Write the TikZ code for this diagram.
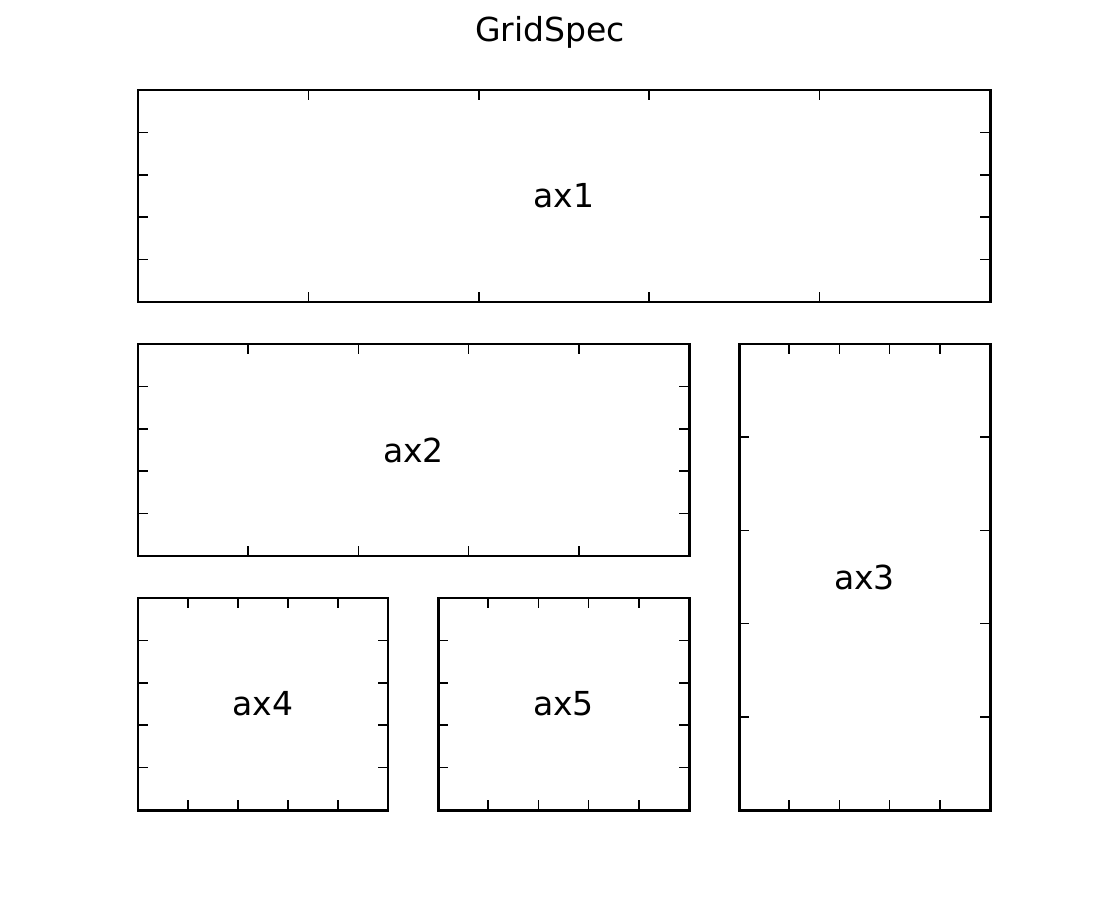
\documentclass[tikz,border=0pt]{standalone}
\usepackage{fontspec}
\setmainfont{DejaVu Sans}
\usetikzlibrary{calc}

% inward ticks, four per side
\newcommand\paneticks[1]{%
  \foreach \i in {1,...,4} {
    \draw[tick] ($(#1.north west)!\i/5!(#1.north east)$) -- ++(0,-0.2);
    \draw[tick] ($(#1.south west)!\i/5!(#1.south east)$) -- ++(0,0.2);
    \draw[tick] ($(#1.south west)!\i/5!(#1.north west)$) -- ++(0.2,0);
    \draw[tick] ($(#1.south east)!\i/5!(#1.north east)$) -- ++(-0.2,0);
  }}

\begin{document}
\begin{tikzpicture}[
  font=\fontsize{18.8}{22}\selectfont,
  panel/.style 2 args={draw, line width=1.7pt, inner sep=0pt, outer sep=0pt,
    minimum width=#1, minimum height=#2},
  tick/.style={line width=0.9pt},
]
\useasboundingbox (0,0) rectangle (22,18);

\node (title) at (11.0,17.36) {GridSpec};

% top row spans all columns
\node[panel={17.04cm}{4.24cm}] (ax1) at (11.28,14.08) {ax1};

% middle and bottom rows
\node[panel={11.02cm}{4.24cm}] (ax2) at (8.27,9.0) {ax2};
\node[panel={5.02cm}{9.32cm}] (ax3) at (17.29,6.46) {ax3};
\node[panel={5.0cm}{4.24cm}] (ax4) at (5.26,3.92) {ax4};
\node[panel={5.02cm}{4.24cm}] (ax5) at (11.27,3.92) {ax5};

\foreach \ax in {ax1,ax2,ax3,ax4,ax5} {\paneticks{\ax}}

\end{tikzpicture}
\end{document}
